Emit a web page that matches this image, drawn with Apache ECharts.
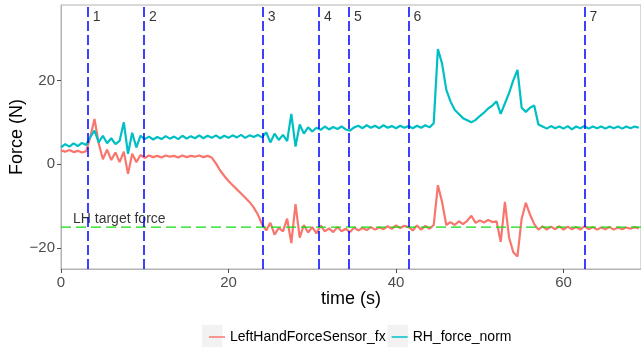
<!DOCTYPE html>
<html>
<head>
<meta charset="utf-8">
<script src="https://cdn.jsdelivr.net/npm/echarts@6/dist/echarts.min.js"></script>
<style>
  html, body { margin: 0; padding: 0; background: #fff; }
  #chart { width: 641px; height: 348px; }
</style>
</head>
<body>
<div id="chart"></div>
<script>
// sample times (s)
const time = [
  0, 0.5, 1, 1.5, 2, 2.5, 3, 3.5, 4, 4.5,
  5, 5.5, 6, 6.5, 7, 7.5, 8, 8.5, 9, 9.5,
  10, 10.5, 11, 11.5, 12, 12.5, 13, 13.5, 14, 14.5,
  15, 15.5, 16, 16.5, 17, 17.5, 18, 18.5, 19, 19.5,
  20, 20.5, 21, 21.5, 22, 22.5, 23, 23.5, 24, 24.5,
  25, 25.5, 26, 26.5, 27, 27.5, 28, 28.5, 29, 29.5,
  30, 30.5, 31, 31.5, 32, 32.5, 33, 33.5, 34, 34.5,
  35, 35.5, 36, 36.5, 37, 37.5, 38, 38.5, 39, 39.5,
  40, 40.5, 41, 41.5, 42, 42.5, 43, 43.5, 44, 44.5,
  45, 45.5, 46, 46.5, 47, 47.5, 48, 48.5, 49, 49.5,
  50, 50.5, 51, 51.5, 52, 52.5, 53, 53.5, 54, 54.5,
  55, 55.5, 56, 56.5, 57, 57.5, 58, 58.5, 59, 59.5,
  60, 60.5, 61, 61.5, 62, 62.5, 63, 63.5, 64, 64.5,
  65, 65.5, 66, 66.5, 67, 67.5, 68, 68.5, 69
]
// LeftHandForceSensor_fx (N)
const leftFx = [
  3.3, 3.0, 3.4, 2.9, 3.2, 2.8, 3.1, 6.5, 10.8, 5.0,
  1.2, 3.5, 1.0, 2.8, 0.5, 3.0, -2.3, 2.5, 0.5, 2.2,
  1.5, 2.1, 1.7, 2.0, 1.6, 2.1, 1.8, 2.0, 1.6, 2.1,
  1.7, 2.0, 1.8, 2.1, 1.7, 2.0, 1.6, 0.2, -1.5, -2.8,
  -4.0, -5.0, -6.0, -7.0, -8.0, -9.0, -10.3, -12.0, -14.3, -15.8,
  -14.0, -16.8, -15.2, -16.0, -13.0, -18.8, -9.5, -17.5, -14.5, -16.3,
  -15.0, -16.5, -14.6, -16.0, -15.3, -16.2, -15.0, -16.0, -15.4, -16.2,
  -15.1, -15.8, -15.2, -15.7, -15.0, -15.6, -15.1, -15.5, -14.8, -15.4,
  -14.6, -15.2, -14.7, -15.0, -15.8, -14.6, -15.6, -14.7, -15.4, -14.5,
  -5.0, -9.0, -14.5, -13.8, -14.5, -13.6, -14.3, -13.5, -12.3, -14.0,
  -13.4, -13.9, -13.3, -13.8, -13.6, -18.5, -9.0, -17.5, -21.0, -22.0,
  -13.0, -9.2, -12.0, -14.3, -15.6, -14.8, -15.6, -14.9, -15.5, -14.8,
  -15.6, -14.9, -15.5, -15.0, -15.6, -14.8, -15.5, -15.0, -15.6, -15.1,
  -15.5, -15.0, -15.6, -15.1, -15.5, -15.1, -15.4, -15.0, -15.3
]
// RH_force_norm (N)
const rhNorm = [
  4.0, 4.8, 4.2, 5.0, 4.3, 5.1, 4.6, 6.5, 8.0, 5.2,
  6.8, 5.0, 6.2, 4.8, 5.6, 10.0, 2.5, 7.5, 4.0, 6.8,
  6.0, 6.6, 5.9, 6.5, 6.0, 6.7, 6.1, 6.6, 6.0, 6.8,
  6.1, 6.7, 6.2, 6.9, 6.2, 6.8, 6.3, 6.9, 6.2, 6.8,
  6.3, 6.9, 6.4, 7.0, 6.3, 6.9, 6.5, 7.0, 6.4, 7.6,
  5.2, 7.3, 5.8, 7.0, 5.5, 12.0, 4.2, 9.5, 7.3, 8.8,
  7.8, 8.7, 8.2, 9.0, 8.3, 8.9, 8.4, 9.0, 8.3, 8.0,
  8.8, 9.2, 8.6, 9.3, 8.7, 9.2, 8.6, 9.3, 8.7, 9.1,
  8.6, 9.2, 8.7, 9.1, 8.6, 9.2, 8.7, 9.3, 8.8, 9.8,
  27.5, 24.0, 17.8, 15.0, 13.0, 12.0, 11.0, 10.5, 10.0, 10.6,
  11.5, 12.3, 13.3, 14.0, 15.0, 12.0, 14.5, 17.0, 20.0, 22.5,
  13.5, 12.5, 13.5, 14.0, 9.5, 9.0, 8.5, 9.1, 8.6, 9.0,
  8.5, 9.1, 8.3, 9.0, 8.6, 9.1, 8.5, 9.0, 8.6, 9.0,
  8.5, 9.0, 8.6, 9.0, 8.5, 9.0, 8.6, 9.0, 8.7
]
// phase boundaries (s) and their labels
const phaseTimes = [3.2, 9.9, 24.1, 30.8, 34.4, 41.5, 62.5]
const phaseLabels = ['1', '2', '3', '4', '5', '6', '7']
const targetForce = -15
const xMin = 0
const xMax = 69.25
const yTicks = [-20, 0, 20]

const font = 'Liberation Sans, Arial, Helvetica, sans-serif'
const chart = echarts.init(document.getElementById('chart'))

chart.setOption({
  animation: false,
  textStyle: { fontFamily: font },
  grid: {
    left: 61, top: 5, width: 580, height: 264,
    containLabel: false, outerBoundsMode: 'none',
    show: true, borderColor: '#b3b3b3', borderWidth: 1, backgroundColor: '#fff'
  },
  legend: {
    data: ['LeftHandForceSensor_fx', 'RH_force_norm'],
    left: 204, top: 325,
    icon: 'rect', itemWidth: 16, itemHeight: 1.5, itemGap: 6,
    textStyle: { fontSize: 14, color: '#000', fontFamily: font },
    z: 10
  },
  graphic: [
    // grey key backgrounds, ggplot style
    { type: 'rect', left: 202, top: 325, shape: { width: 20.5, height: 22 }, style: { fill: '#f2f2f2' }, z: 0 },
    { type: 'rect', left: 387.5, top: 325, shape: { width: 20.5, height: 22 }, style: { fill: '#f2f2f2' }, z: 0 }
  ],
  xAxis: {
    type: 'value', min: xMin, max: xMax, interval: 20,
    name: 'time (s)', nameLocation: 'middle', nameGap: 21, nameMoveOverlap: false,
    nameTextStyle: { fontSize: 18, color: '#000', fontFamily: font },
    axisLine: { onZero: false, lineStyle: { color: '#b3b3b3', width: 1 } },
    axisTick: { length: 4, lineStyle: { color: '#4d4d4d' } },
    axisLabel: { fontSize: 15, color: '#4d4d4d', margin: 6, showMaxLabel: false },
    splitLine: { show: false }
  },
  yAxis: {
    type: 'value', min: -25, max: 38,
    name: 'Force (N)', nameLocation: 'middle', nameGap: 35, nameMoveOverlap: false,
    nameTextStyle: { fontSize: 18, color: '#000', fontFamily: font },
    axisLine: { show: true, onZero: false, lineStyle: { color: '#b3b3b3', width: 1 } },
    axisTick: { show: true, length: 4, customValues: yTicks, lineStyle: { color: '#4d4d4d' } },
    axisLabel: {
      fontSize: 15, color: '#4d4d4d', margin: 6, customValues: yTicks,
      formatter: (v) => String(v).replace('-', '\u2212')
    },
    splitLine: { show: false }
  },
  series: [
    {
      name: 'LeftHandForceSensor_fx',
      type: 'line', symbol: 'none', color: '#F8766D',
      lineStyle: { width: 2.2, color: '#F8766D' },
      data: time.map((t, i) => [t, leftFx[i]])
    },
    {
      name: 'RH_force_norm',
      type: 'line', symbol: 'none', color: '#00BFC4',
      lineStyle: { width: 2.2, color: '#00BFC4' },
      data: time.map((t, i) => [t, rhNorm[i]])
    },
    {
      name: 'phases',
      type: 'line', data: [], silent: true,
      markLine: {
        symbol: 'none', silent: true, animation: false,
        lineStyle: { color: '#0000ff', type: [10, 4], width: 1.5 },
        label: { show: false },
        data: phaseTimes.map((t) => ({ xAxis: t }))
      }
    },
    {
      // target force line, drawn across the whole x range
      name: 'target',
      type: 'line', silent: true, symbol: 'none', color: '#11dd11',
      lineStyle: { color: '#11dd11', type: [10, 5], width: 1.3 },
      data: [[xMin, targetForce], [xMax, targetForce]]
    },
    {
      name: 'targetLabel',
      type: 'scatter', symbolSize: 0, silent: true,
      data: [{ value: [xMin, targetForce], name: 'LH target force' }],
      label: {
        show: true, position: 'right', distance: 0, offset: [12, -8],
        formatter: (p) => p.name, fontSize: 14, color: '#000', fontFamily: font
      }
    },
    {
      name: 'phaseLabels',
      type: 'scatter', symbolSize: 0, silent: true,
      data: phaseTimes.map((t, i) => ({ value: [t, 35], name: phaseLabels[i] })),
      label: {
        show: true, position: 'right', distance: 5,
        formatter: (p) => p.name, fontSize: 14, color: '#000', fontFamily: font
      }
    }
  ]
})
</script>
</body>
</html>
